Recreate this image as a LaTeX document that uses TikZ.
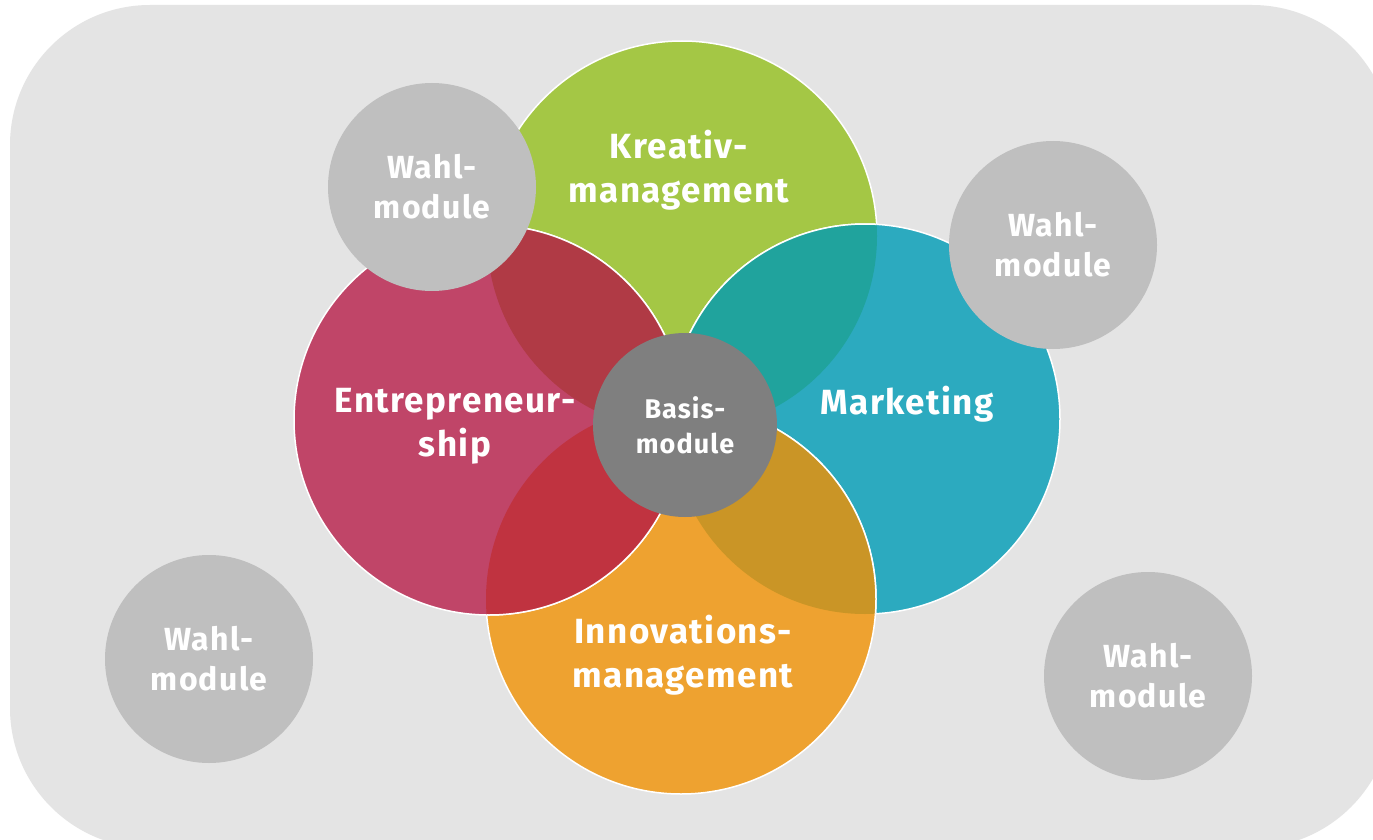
\documentclass[tikz,border=0pt]{standalone}
\usepackage{fontspec}
\setmainfont{Fira Sans}[LetterSpace=4]
\definecolor{backgray}{HTML}{E4E4E4}
\definecolor{wahlgray}{HTML}{BFBFBF}
\definecolor{basisgray}{HTML}{7F7F7F}
\definecolor{kreativgreen}{HTML}{A4C745}
\definecolor{entremagenta}{HTML}{C04568}
\definecolor{marketingteal}{HTML}{2CAABF}
\definecolor{innoorange}{HTML}{EEA230}
\definecolor{lensKE}{HTML}{B03A45}
\definecolor{lensKM}{HTML}{20A39D}
\definecolor{lensEI}{HTML}{C03340}
\definecolor{lensMI}{HTML}{CA9526}

\begin{document}
\begin{tikzpicture}[x=1pt,y=-1pt,
    field/.style={circle, minimum size=390pt, inner sep=0pt, draw=white, line width=1.5pt},
    edge/.style={white, line width=1.5pt},
    fieldlabel/.style={text=white, align=center, font=\fontsize{35}{44}\selectfont\bfseries},
    wahl/.style={circle, minimum size=208pt, inner sep=0pt, fill=wahlgray, text=white, align=center, font=\fontsize{32}{40}\selectfont\bfseries},
    basis/.style={circle, minimum size=184pt, inner sep=0pt, fill=basisgray, text=white, align=center, font=\fontsize{27}{35}\selectfont\bfseries}]
    \clip (0,0) rectangle (1373,840);
    \fill[white] (0,0) rectangle (1373,840);
    \fill[backgray, rounded corners=140pt] (10,5) rectangle (1392,848);
    % the four fields, bottom to top
    \node[field, fill=kreativgreen] (kreativ) at (682,236) {};
    \node[field, fill=marketingteal] (marketing) at (865,419) {};
    \node[field, fill=innoorange] (innovation) at (681,599) {};
    \node[field, fill=entremagenta] (entre) at (489,420) {};
    % overlaps
    \begin{scope}
        \clip (kreativ.center) circle (195pt);
        \fill[lensKE] (entre.center) circle (195pt);
        \fill[lensKM] (marketing.center) circle (195pt);
    \end{scope}
    \begin{scope}
        \clip (innovation.center) circle (195pt);
        \fill[lensEI] (entre.center) circle (195pt);
        \fill[lensMI] (marketing.center) circle (195pt);
    \end{scope}
    \begin{scope}
        \clip (kreativ.center) circle (195pt);
        \draw[edge] (entre.center) circle (195pt) (marketing.center) circle (195pt);
    \end{scope}
    \begin{scope}
        \clip (innovation.center) circle (195pt);
        \draw[edge] (entre.center) circle (195pt);
    \end{scope}
    \begin{scope}
        \clip (marketing.center) circle (195pt);
        \draw[edge] (innovation.center) circle (195pt);
    \end{scope}
    % labels
    \node[fieldlabel] (kreativtext) at (679,170) {Kreativ-\\management};
    \node[fieldlabel] (entretext) at (455,426) {Entrepreneur-\\ship};
    \node[fieldlabel] (marketingtext) at (907,404) {Marketing};
    \node[fieldlabel] (innotext) at (683,655) {Innovations-\\management};
    % Wahl- and Basismodule
    \node[wahl] (wahltl) at (432,187) {Wahl-\\module};
    \node[wahl] (wahltr) at (1053,245) {Wahl-\\module};
    \node[wahl] (wahlbl) at (209,659) {Wahl-\\module};
    \node[wahl] (wahlbr) at (1148,676) {Wahl-\\module};
    \node[basis] (basis) at (685,425) {Basis-\\module};
\end{tikzpicture}
\end{document}
